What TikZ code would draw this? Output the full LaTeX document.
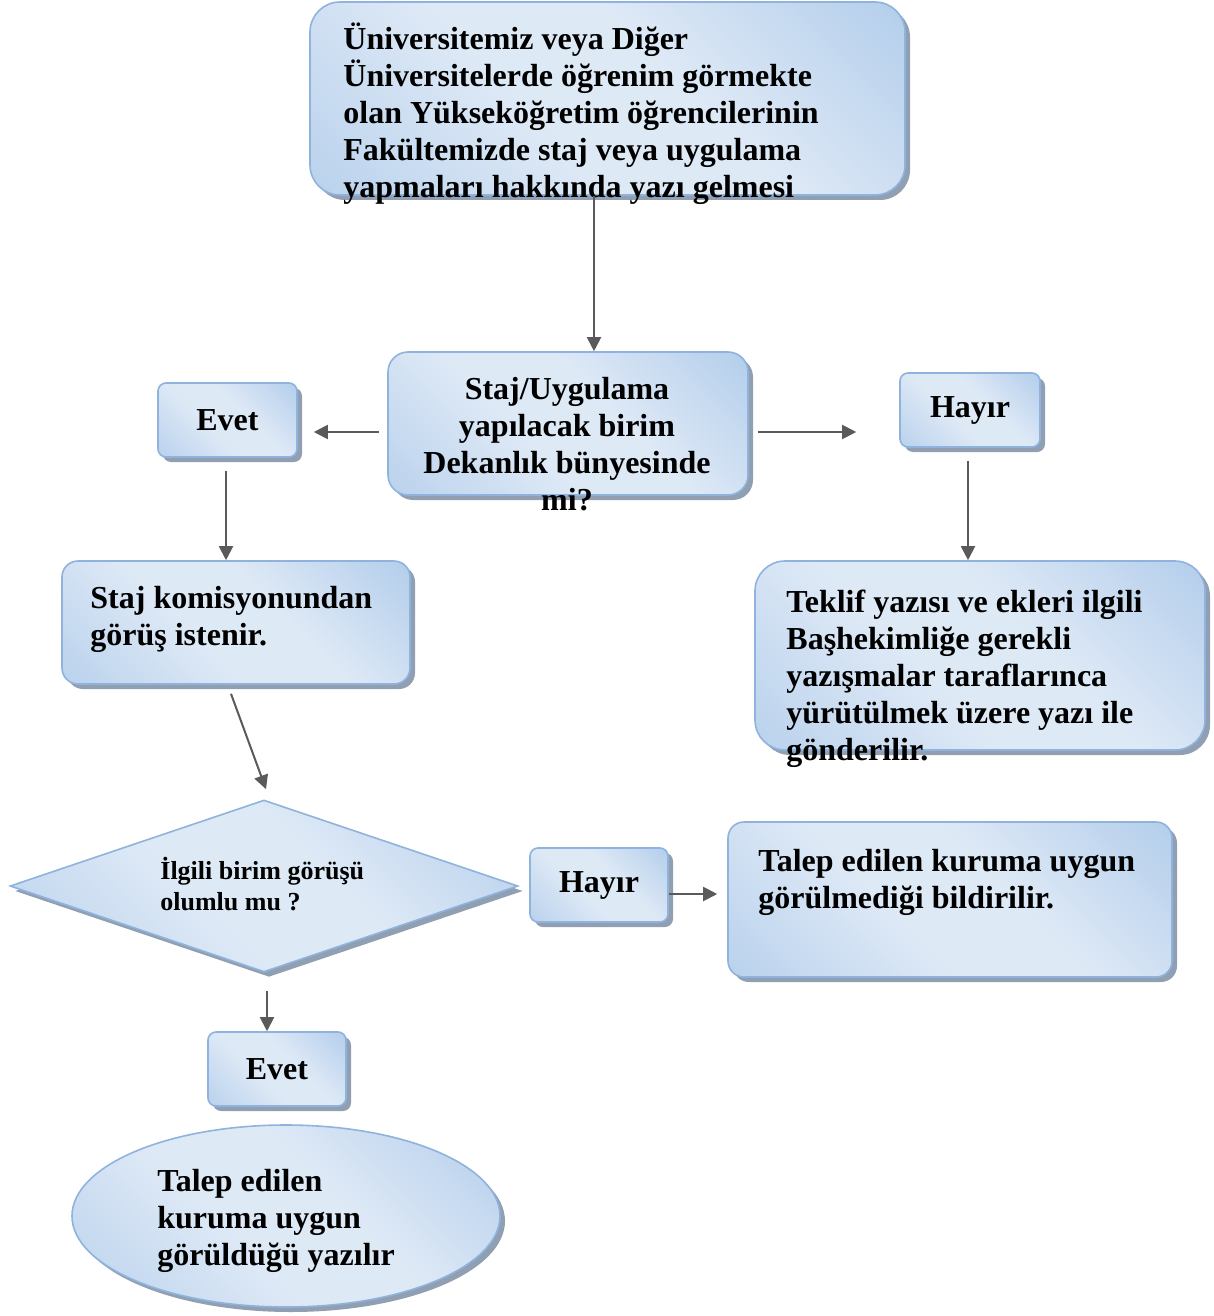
\documentclass[tikz,border=0pt]{standalone}
\usepackage{fontspec}
\setmainfont{Liberation Serif}
\usetikzlibrary{arrows.meta,calc,shapes.geometric,shadows}

\definecolor{boxlight}{HTML}{DEE9F6}
\definecolor{boxdark}{HTML}{9CBFE5}
\definecolor{boxline}{HTML}{8FB3DD}
\definecolor{boxshadow}{HTML}{7D8EA5}
\definecolor{arrowgray}{HTML}{5A5A5A}

\pgfdeclarehorizontalshading{boxshade}{100bp}{color(0bp)=(boxdark!85!boxlight); color(42bp)=(boxlight); color(58bp)=(boxlight); color(100bp)=(boxdark)}

\begin{document}
\begin{tikzpicture}[x=0.5pt, y=-0.5pt,
					box/.style={
						draw=boxline, line width=0.8pt,
						shading=boxshade, shading angle=45,
						drop shadow={shadow xshift=2.5pt, shadow yshift=-2.5pt, fill=boxshadow, opacity=.85},
						inner sep=0pt, font=\fontsize{16}{18.5}\selectfont\bfseries
					},
					txt/.style={inner sep=0pt, font=\fontsize{16}{18.5}\selectfont\bfseries},
					arr/.style={draw=arrowgray, line width=1pt, -{Triangle[length=7pt,width=7pt]}}
				]
				\useasboundingbox (0,0) rectangle (1214,1316);
				
				% boxes
				\node (top) [box, rounded corners=15pt, minimum width=297.5pt, minimum height=96.5pt] at (607.5,98.5) {};
				\node (mid) [box, rounded corners=10pt, minimum width=180pt, minimum height=71.5pt] at (568,423.5) {};
				\node (evet1) [box, rounded corners=4pt, minimum width=69.5pt, minimum height=37pt] at (227.5,420) {Evet};
				\node (hayir1) [box, rounded corners=4pt, minimum width=70pt, minimum height=37pt] at (970,410) {Hayır};
				\node (kom) [box, rounded corners=8pt, minimum width=174pt, minimum height=61.5pt] at (236,622.5) {};
				\node (teklif) [box, rounded corners=15pt, minimum width=225pt, minimum height=94.5pt] at (980,655.5) {};
				\node (dia) [box, diamond, minimum width=254pt, minimum height=86pt] at (264,886) {};
				\node (hayir2) [box, rounded corners=4pt, minimum width=69pt, minimum height=37pt] at (599,885) {Hayır};
				\node (talep) [box, rounded corners=8pt, minimum width=222pt, minimum height=77.5pt] at (950,899.5) {};
				\node (evet2) [box, rounded corners=4pt, minimum width=69pt, minimum height=37pt] at (277,1069) {Evet};
				\node (son) [box, ellipse, minimum width=214pt, minimum height=91pt] at (286,1216) {};
				
				% texts (base = last line)
				\node (toptext) [txt, align=left, anchor=base west] at (343,198)
					{Üniversitemiz veya Diğer\\Üniversitelerde öğrenim görmekte\\olan Yükseköğretim öğrencilerinin\\Fakültemizde staj veya uygulama\\yapmaları hakkında yazı gelmesi};
				\node (midtext) [txt, align=center, anchor=base] at (567,510)
					{Staj/Uygulama\\yapılacak birim\\Dekanlık bünyesinde\\mi?};
				\node (komtext) [txt, align=left, anchor=base west] at (90,645)
					{Staj komisyonundan\\görüş istenir.};
				\node (teklifimg) [txt, align=left, anchor=base west] at (786,760)
					{Teklif yazısı ve ekleri ilgili\\Başhekimliğe gerekli\\yazışmalar taraflarınca\\yürütülmek üzere yazı ile\\gönderilir.};
				\node (diatext) [txt, align=left, anchor=base west, font=\fontsize{13}{15.5}\selectfont\bfseries] at (160,910)
					{İlgili birim görüşü\\olumlu mu ?};
				\node (taleptext) [txt, align=left, anchor=base west] at (758,908)
					{Talep edilen kuruma uygun\\görülmediği bildirilir.};
				\node (sontext) [txt, align=left, anchor=base west] at (157,1265)
					{Talep edilen\\kuruma uygun\\görüldüğü yazılır};
				
				% connectors
				\draw[arr] ([xshift=-6.75pt]top.south) -- ([xshift=13pt]mid.north);
				\draw[arr, shorten >=8pt] ([shift={(-4pt,-4.25pt)}]mid.west) coordinate (a1) -- (a1 -| evet1.east);
				\draw[arr, shorten >=21.5pt] ([shift={(4.5pt,-4.25pt)}]mid.east) coordinate (a2) -- (a2 -| hayir1.west);
				\draw[arr] ([shift={(-0.75pt,-6.5pt)}]evet1.south) coordinate (a3) -- (a3 |- kom.north);
				\draw[arr] ([shift={(-1pt,-6.5pt)}]hayir1.south) coordinate (a4) -- (a4 |- teklif.north);
				\draw[arr] ([shift={(-2.5pt,-4.5pt)}]kom.south) -- ([shift={(1pt,5pt)}]dia.north);
				\draw[arr, shorten >=5pt] ([yshift=-4.5pt]hayir2.east) coordinate (a5) -- (a5 -| talep.west);
				\draw[arr] ([shift={(1.5pt,-9pt)}]dia.south) coordinate (a6) -- (a6 |- evet2.north);
			\end{tikzpicture}
\end{document}
